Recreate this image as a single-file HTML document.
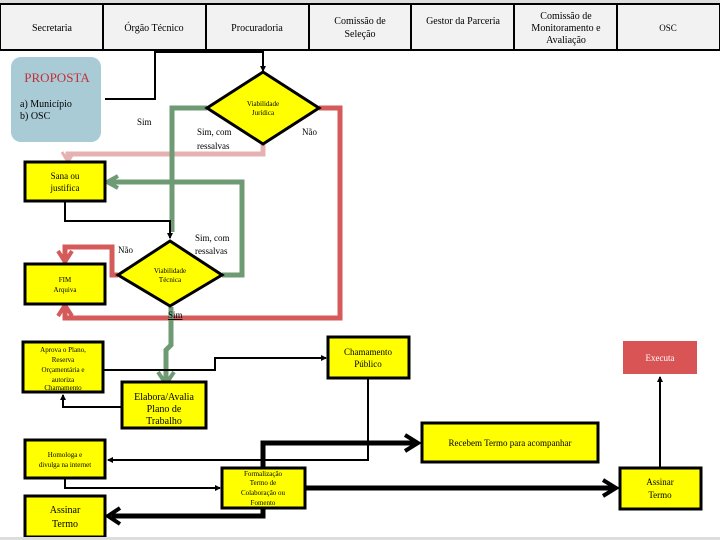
<!DOCTYPE html>
<html><head><meta charset="utf-8"><style>
html,body{margin:0;padding:0;background:#fff;}
svg{display:block;font-family:"Liberation Serif",serif;}
</style></head><body>
<svg width="720" height="540" viewBox="0 0 720 540" xmlns="http://www.w3.org/2000/svg">
<defs>
<marker id="ab" markerWidth="6" markerHeight="6" refX="5" refY="3" orient="auto" markerUnits="userSpaceOnUse"><path d="M0,0 L6,3 L0,6 z" fill="#000"/></marker>
</defs>
<rect x="0" y="0" width="720" height="540" fill="#fff"/>
<!-- header -->
<rect x="0" y="0" width="720" height="4" fill="#ddd"/>
<rect x="0" y="4" width="720" height="46" fill="#f2f2f2" stroke="#000" stroke-width="2"/>
<g stroke="#000" stroke-width="2">
<line x1="103" y1="4" x2="103" y2="50"/><line x1="206" y1="4" x2="206" y2="50"/><line x1="309" y1="4" x2="309" y2="50"/>
<line x1="411" y1="4" x2="411" y2="50"/><line x1="514" y1="4" x2="514" y2="50"/><line x1="617" y1="4" x2="617" y2="50"/>
</g>
<g font-size="10" text-anchor="middle" fill="#000">
<text x="52" y="31">Secretaria</text>
<text x="154" y="31">Órgão Técnico</text>
<text x="257" y="31">Procuradoria</text>
<text x="360" y="24">Comissão de</text><text x="360" y="37">Seleção</text>
<text x="463" y="24">Gestor da Parceria</text>
<text x="566" y="19">Comissão de</text><text x="566" y="31">Monitoramento e</text><text x="566" y="43">Avaliação</text>
<text x="668" y="31" font-size="9">OSC</text>
</g>
<!-- proposta -->
<rect x="11" y="57" width="90" height="85" rx="10" fill="#a9cbd6"/>
<text x="57" y="82" text-anchor="middle" font-size="13" fill="#c0303a">PROPOSTA</text>
<text x="20" y="107" font-size="10">a) Município</text>
<text x="20" y="119" font-size="10">b) OSC</text>
<polyline points="105,99 155,99 155,52 263,52 263,71" fill="none" stroke="#000" stroke-width="2" marker-end="url(#ab)"/>
<!-- colored connectors -->
<polyline points="263,144 263,154 68,154 68,160" fill="none" stroke="#e6b1b1" stroke-width="5"/>
<path d="M62,152 L68,162 L74,152" fill="none" stroke="#e6b1b1" stroke-width="3"/>
<polyline points="319,108 340,108 340,318 65,318 65,308" fill="none" stroke="#d55a5a" stroke-width="5"/>
<path d="M58,316 L65,305 L72,316" fill="none" stroke="#d55a5a" stroke-width="4"/>
<polyline points="207,108 172,108 172,232" fill="none" stroke="#6f9b74" stroke-width="5"/>
<polyline points="222,275 242,275 242,182 110,182" fill="none" stroke="#6f9b74" stroke-width="5"/>
<path d="M118,176 L107,182 L118,188" fill="none" stroke="#6f9b74" stroke-width="4"/>
<polyline points="118,275 112,275 112,247 65,247 65,258" fill="none" stroke="#d55a5a" stroke-width="5"/>
<path d="M58,251 L65,262 L72,251" fill="none" stroke="#d55a5a" stroke-width="4"/>
<polyline points="171,307 171,345 166,350 166,380" fill="none" stroke="#6f9b74" stroke-width="5"/>
<path d="M158,372 L166,384 L174,372" fill="none" stroke="#6f9b74" stroke-width="4"/>
<polyline points="65,201 65,221 170,221 170,238" fill="none" stroke="#000" stroke-width="2" marker-end="url(#ab)"/>
<!-- diamonds -->
<polygon points="263,72 319,108 263,144 207,108" fill="#ffff00" stroke="#000" stroke-width="3"/>
<text x="263" y="106" text-anchor="middle" font-size="7">Viabilidade</text>
<text x="263" y="115" text-anchor="middle" font-size="7">Jurídica</text>
<polygon points="170,241 222,275 170,306 118,275" fill="#ffff00" stroke="#000" stroke-width="3"/>
<text x="170" y="273" text-anchor="middle" font-size="7">Viabilidade</text>
<text x="170" y="282" text-anchor="middle" font-size="7">Técnica</text>
<!-- labels -->
<g font-size="9">
<text x="137" y="125">Sim</text>
<text x="197" y="135">Sim, com</text><text x="197" y="149">ressalvas</text>
<text x="302" y="135">Não</text>
<text x="118" y="253">Não</text>
<text x="195" y="241">Sim, com</text><text x="195" y="254">ressalvas</text>
<text x="168" y="318" text-decoration="underline">Sim</text>
</g>
<!-- boxes -->
<g fill="#ffff00" stroke="#000" stroke-width="3">
<rect x="25" y="162" width="80" height="39"/>
<rect x="25" y="264" width="80" height="40"/>
<rect x="23" y="342" width="80" height="50"/>
<rect x="122" y="382" width="84" height="46"/>
<rect x="328" y="337" width="81" height="41"/>
<rect x="25" y="440" width="80" height="38"/>
<rect x="222" y="468" width="83" height="40"/>
<rect x="422" y="423" width="176" height="39"/>
<rect x="620" y="468" width="81" height="41"/>
<rect x="25" y="496" width="80" height="41"/>
</g>
<rect x="623" y="341" width="74" height="33" fill="#d95555"/>
<g font-size="9" text-anchor="middle">
<text x="65" y="179">Sana ou</text><text x="65" y="191">justifica</text>
<text x="65" y="282" font-size="7">FIM</text><text x="65" y="292" font-size="7">Arquiva</text>
<text x="63" y="352" font-size="7">Aprova o Plano,</text><text x="63" y="362" font-size="7">Reserva</text><text x="63" y="372" font-size="7">Orçamentária e</text><text x="63" y="382" font-size="7">autoriza</text><text x="63" y="390" font-size="7">Chamamento</text>
<text x="164" y="400" font-size="10">Elabora/Avalia</text><text x="164" y="412" font-size="10">Plano de</text><text x="164" y="424" font-size="10">Trabalho</text>
<text x="368" y="355">Chamamento</text><text x="368" y="367">Público</text>
<text x="660" y="361" fill="#fff">Executa</text>
<text x="510" y="446">Recebem Termo para acompanhar</text>
<text x="65" y="457" font-size="7">Homologa e</text><text x="65" y="467" font-size="7">divulga na internet</text>
<text x="263" y="476" font-size="7">Formalização</text><text x="263" y="485" font-size="7">Termo de</text><text x="263" y="495" font-size="7">Colaboração ou</text><text x="263" y="505" font-size="7">Fomento</text>
<text x="660" y="485">Assinar</text><text x="660" y="498">Termo</text>
<text x="65" y="513" font-size="10">Assinar</text><text x="65" y="527" font-size="10">Termo</text>
</g>
<!-- black connectors -->
<g fill="none" stroke="#000" stroke-width="2">
<polyline points="122,407 63,407 63,395" marker-end="url(#ab)"/>
<polyline points="103,370 215,370 215,358 326,358" marker-end="url(#ab)"/>
<polyline points="368,378 368,460 108,460" marker-end="url(#ab)"/>
<polyline points="65,478 65,488 220,488" marker-end="url(#ab)"/>
<polyline points="660,467 660,377" marker-end="url(#ab)"/>
</g>
<g fill="none" stroke="#000" stroke-width="5">
<polyline points="263,468 263,443 416,443"/>
<polyline points="305,488 614,488"/>
<polyline points="263,508 263,516 112,516"/>
</g>
<g fill="none" stroke="#000" stroke-width="4">
<path d="M405,435 L418,443 L405,451"/>
<path d="M603,480 L616,488 L603,496"/>
<path d="M120,508 L108,516 L120,524"/>
</g>
<rect x="0" y="537" width="720" height="3" fill="#ddd"/>
</svg>
</body></html>
